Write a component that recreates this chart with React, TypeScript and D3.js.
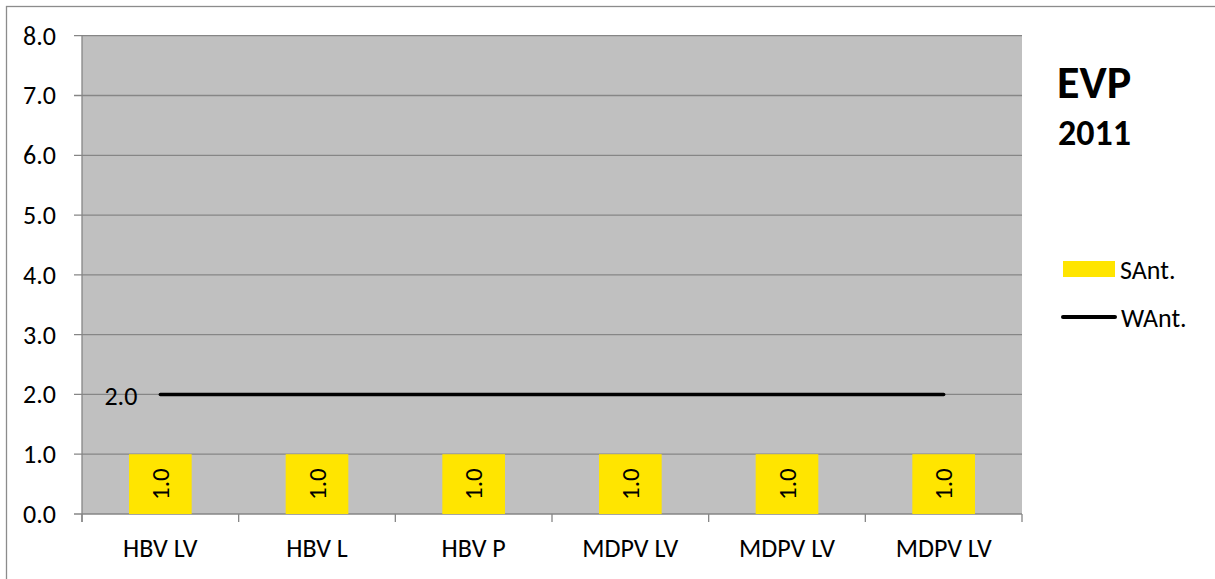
import React, { useRef, useEffect } from 'react';
import * as d3 from 'd3';

const categories = ['HBV LV', 'HBV L', 'HBV P', 'MDPV LV', 'MDPV LV', 'MDPV LV'];
const sAnt = [1.0, 1.0, 1.0, 1.0, 1.0, 1.0];
const wAnt = [2.0, 2.0, 2.0, 2.0, 2.0, 2.0];
const yTicks = [0, 1, 2, 3, 4, 5, 6, 7, 8];

const FONT = 'Carlito, Calibri, Lato, sans-serif';

const App = () => {
    const svgRef = useRef<SVGSVGElement>(null);

    useEffect(() => {
        drawChart();
    }, []);

    const drawChart = () => {
        const svg = d3.select(svgRef.current);
        svg.selectAll('*').remove();

        const width = 1215;
        const height = 579;
        const left = 82, right = 1022, top = 35.7, bottom = 514;

        // outer chart border
        svg.append('rect')
            .attr('x', 6.5).attr('y', 6.5)
            .attr('width', width).attr('height', height + 20)
            .attr('fill', 'white')
            .attr('stroke', '#8c8c8c')
            .attr('stroke-width', 1.3);

        const x = d3.scaleBand().domain(categories.map((_, i) => String(i))).range([left, right]);
        const y = d3.scaleLinear().domain([0, 8]).range([bottom, top]);

        // plot background
        svg.append('rect')
            .attr('x', left).attr('y', top)
            .attr('width', right - left).attr('height', bottom - top)
            .attr('fill', '#c0c0c0');

        // gridlines + y ticks
        svg.append('g').selectAll('line')
            .data(yTicks)
            .enter().append('line')
            .attr('x1', left - 8).attr('x2', right)
            .attr('y1', d => y(d)).attr('y2', d => y(d))
            .attr('stroke', '#868686')
            .attr('stroke-width', 1.3);

        svg.append('g').selectAll('text')
            .data(yTicks)
            .enter().append('text')
            .attr('x', 56)
            .attr('y', d => y(d))
            .attr('text-anchor', 'end')
            .attr('dominant-baseline', 'central')
            .style('font-family', FONT)
            .style('font-size', '26px')
            .attr('fill', '#000')
            .text(d => d.toFixed(1));

        // axes
        svg.append('line')
            .attr('x1', left).attr('x2', left)
            .attr('y1', top).attr('y2', bottom + 8)
            .attr('stroke', '#868686').attr('stroke-width', 1.3);

        const bounds = categories.map((_, i) => x(String(i)) as number).concat([right]);
        svg.append('g').selectAll('line')
            .data(bounds)
            .enter().append('line')
            .attr('x1', d => d).attr('x2', d => d)
            .attr('y1', bottom).attr('y2', bottom + 8)
            .attr('stroke', '#868686').attr('stroke-width', 1.3);

        // bars
        const bw = x.bandwidth() * 0.4;
        const cx = (i: number) => (x(String(i)) as number) + x.bandwidth() / 2;

        svg.append('g').selectAll('rect')
            .data(sAnt)
            .enter().append('rect')
            .attr('x', (_, i) => cx(i) - bw / 2)
            .attr('y', d => y(d))
            .attr('width', bw)
            .attr('height', d => y(0) - y(d))
            .attr('fill', '#ffe500');

        svg.append('g').selectAll('text')
            .data(sAnt)
            .enter().append('text')
            .attr('transform', (d, i) => `translate(${cx(i)},${(y(d) + y(0)) / 2}) rotate(-90)`)
            .attr('text-anchor', 'middle')
            .attr('dominant-baseline', 'central')
            .style('font-family', FONT)
            .style('font-size', '25px')
            .text(d => d.toFixed(1));

        // line series
        const line = d3.line<number>()
            .x((_, i) => cx(i))
            .y(d => y(d));

        svg.append('path')
            .datum(wAnt)
            .attr('d', line)
            .attr('fill', 'none')
            .attr('stroke', '#000')
            .attr('stroke-width', 3.5)
            .attr('stroke-linecap', 'round');

        svg.append('text')
            .attr('x', cx(0) - 23)
            .attr('y', y(wAnt[0]) + 2)
            .attr('text-anchor', 'end')
            .attr('dominant-baseline', 'central')
            .style('font-family', FONT)
            .style('font-size', '26px')
            .text(wAnt[0].toFixed(1));

        // x labels
        svg.append('g').selectAll('text')
            .data(categories)
            .enter().append('text')
            .attr('x', (_, i) => cx(i))
            .attr('y', 548)
            .attr('text-anchor', 'middle')
            .attr('dominant-baseline', 'central')
            .style('font-family', FONT)
            .style('font-size', '26px')
            .text(d => d);

        // title
        svg.append('text')
            .attr('x', 1057).attr('y', 98)
            .style('font-family', FONT)
            .style('font-size', '46px')
            .style('font-weight', 'bold')
            .text('EVP');
        svg.append('text')
            .attr('x', 1058).attr('y', 145)
            .style('font-family', FONT)
            .style('font-size', '36px')
            .style('font-weight', 'bold')
            .text('2011');

        // legend
        svg.append('rect')
            .attr('x', 1063).attr('y', 261)
            .attr('width', 52).attr('height', 16)
            .attr('fill', '#ffe500');
        svg.append('text')
            .attr('x', 1120).attr('y', 270)
            .attr('dominant-baseline', 'central')
            .style('font-family', FONT)
            .style('font-size', '26px')
            .text('SAnt.');
        svg.append('line')
            .attr('x1', 1063).attr('x2', 1115)
            .attr('y1', 317).attr('y2', 317)
            .attr('stroke', '#000').attr('stroke-width', 4)
            .attr('stroke-linecap', 'round');
        svg.append('text')
            .attr('x', 1121).attr('y', 318)
            .attr('dominant-baseline', 'central')
            .style('font-family', FONT)
            .style('font-size', '26px')
            .text('WAnt.');
    };

    return (
        <svg ref={svgRef} width={1215} height={579}
            style={{ position: 'absolute', left: 0, top: 0, overflow: 'hidden' }}></svg>
    );
};

export default App;
